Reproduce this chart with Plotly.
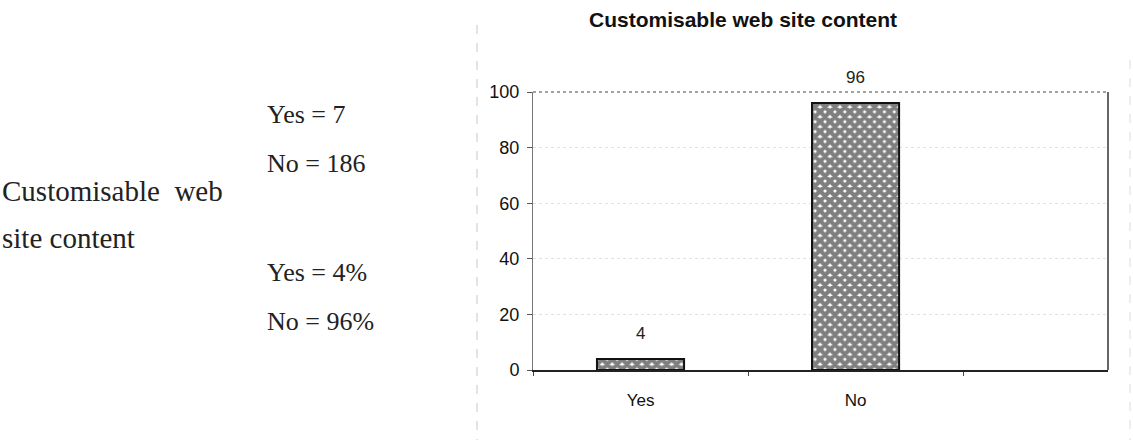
import plotly.graph_objects as go

# Survey answers for the "Customisable web site content" question
categories = ["Yes", "No"]
counts = [7, 186]
percentages = [4, 96]
y_ticks = [0, 20, 40, 60, 80, 100]

W, H = 1133, 448

fig = go.Figure()

fig.add_trace(go.Bar(
    x=categories,
    y=percentages,
    width=0.405,
    marker=dict(
        color="white",
        line=dict(color="#111", width=2),
        pattern=dict(shape="x", fgcolor="#000", bgcolor="white", size=7, solidity=0.85),
    ),
    showlegend=False,
))

# value labels above each bar
for cat, val in zip(categories, percentages):
    fig.add_annotation(x=cat, y=val, text=str(val), showarrow=False,
                       xref="x", yref="y", yanchor="bottom", yshift=14,
                       font=dict(family="Liberation Sans, Arial", size=17, color="#222"))

# plot area placement in pixels
x0, x1 = 533, 1108
y_top, y_bot = 92, 370

fig.update_layout(
    width=W, height=H,
    margin=dict(l=0, r=0, t=0, b=0, pad=0, autoexpand=False),
    paper_bgcolor="white",
    plot_bgcolor="white",
    title=dict(
        text="<b>Customisable web site content</b>",
        x=743 / W, xanchor="center",
        y=1 - 20 / H, yanchor="middle",
        font=dict(family="Liberation Sans, Arial", size=21, color="#111"),
    ),
    xaxis=dict(
        domain=[x0 / W, x1 / W],
        range=[-0.5, 2.174],
        showgrid=False,
        showline=True, linecolor="#222", linewidth=1.5,
        ticks="outside", ticklen=4, tickcolor="#444",
        tickson="boundaries",
        tickfont=dict(family="Liberation Sans, Arial", size=17, color="#111"),
        ticklabelstandoff=14,
        zeroline=False,
        automargin=False,
    ),
    yaxis=dict(
        domain=[1 - y_bot / H, 1 - y_top / H],
        range=[0, 100],
        tickvals=y_ticks,
        ticks="outside", ticklen=5, tickcolor="#555",
        tickfont=dict(family="Liberation Sans, Arial", size=18, color="#111"),
        ticklabelstandoff=4,
        showgrid=True, gridcolor="#e2e2e2", griddash="dot", gridwidth=1,
        showline=True, linecolor="#777", linewidth=1,
        zeroline=False,
        automargin=False,
    ),
)

# frame: dotted top edge, solid right edge
fig.add_shape(type="line", xref="paper", yref="paper",
              x0=x0 / W, x1=x1 / W, y0=1 - y_top / H, y1=1 - y_top / H,
              line=dict(color="#444", width=1.2, dash="dot"))
fig.add_shape(type="line", xref="paper", yref="paper",
              x0=x1 / W, x1=x1 / W, y0=1 - y_top / H, y1=1 - y_bot / H,
              line=dict(color="#333", width=1.5))

# faint chart-area borders
fig.add_shape(type="line", xref="paper", yref="paper",
              x0=477 / W, x1=477 / W, y0=1 - 25 / H, y1=1 - 440 / H,
              line=dict(color="#c8c8c8", width=1, dash="dash"))
fig.add_shape(type="line", xref="paper", yref="paper",
              x0=1130 / W, x1=1130 / W, y0=1 - 60 / H, y1=1 - 440 / H,
              line=dict(color="#dcdcdc", width=1, dash="dash"))

# side text with counts and shares
serif = dict(family="Liberation Serif, Times New Roman", size=26, color="#222")
label_font = dict(family="Liberation Serif, Times New Roman", size=29, color="#222")
side_text = [
    ("Customisable  web", 0, 191, label_font),
    ("site content", 0, 238, label_font),
    (f"{categories[0]} = {counts[0]}", 265, 114, serif),
    (f"{categories[1]} = {counts[1]}", 265, 163, serif),
    (f"{categories[0]} = {percentages[0]}%", 265, 272, serif),
    (f"{categories[1]} = {percentages[1]}%", 265, 321, serif),
]
for txt, px, py, fnt in side_text:
    fig.add_annotation(text=txt, xref="paper", yref="paper",
                       x=px / W, y=1 - py / H, xanchor="left", yanchor="middle",
                       showarrow=False, font=fnt)

fig.write_html("out.html")
